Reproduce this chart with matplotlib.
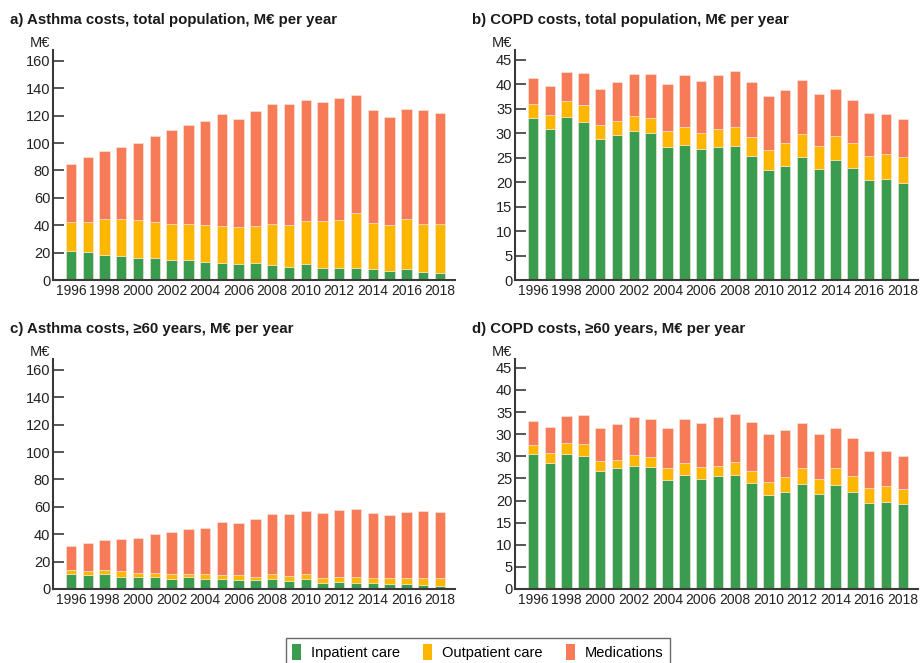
import matplotlib.pyplot as plt
import matplotlib.patches as mpatches
import numpy as np

# data (M€ per year), one value per year 1996..2018
years = list(range(1996, 2019))

# a) asthma, total population
asthma_tot_inpatient = [21.4, 20.4, 18.2, 17.8, 16.3, 16.3, 14.3, 14.8, 13.4, 12.2, 11.7, 12.6,
                        11.2, 9.7, 11.4, 9.0, 8.8, 8.5, 7.8, 6.3, 7.8, 6.1, 5.3]
asthma_tot_outpatient = [20.7, 22.2, 26.3, 26.5, 27.2, 26.3, 26.8, 26.3, 27.0, 27.4, 27.0, 27.0,
                         29.9, 30.4, 31.6, 34.0, 35.0, 40.1, 33.8, 33.8, 36.7, 34.5, 35.3]
asthma_tot_medications = [42.5, 47.1, 49.6, 53.2, 56.7, 62.9, 68.3, 72.0, 76.1, 81.7, 79.2, 83.9,
                          87.8, 88.8, 88.8, 87.1, 89.2, 86.8, 82.4, 79.3, 80.5, 83.4, 81.7]

# b) COPD, total population
copd_tot_inpatient = [33.1, 30.8, 33.3, 32.3, 28.8, 29.6, 30.5, 30.0, 27.2, 27.6, 26.7, 27.2,
                      27.3, 25.4, 22.5, 23.3, 25.2, 22.6, 24.6, 22.8, 20.4, 20.6, 19.9]
copd_tot_outpatient = [2.8, 3.0, 3.2, 3.4, 2.9, 2.9, 3.0, 3.1, 3.3, 3.6, 3.4, 3.6,
                       4.0, 3.9, 4.0, 4.6, 4.7, 4.7, 4.9, 5.2, 5.0, 5.2, 5.3]
copd_tot_medications = [5.3, 5.8, 6.0, 6.6, 7.3, 8.0, 8.6, 9.0, 9.5, 10.6, 10.6, 11.1,
                        11.4, 11.1, 11.2, 10.9, 10.9, 10.7, 9.5, 8.8, 8.7, 8.2, 7.6]

# c) asthma, >=60 years
asthma_60_inpatient = [10.8, 10.1, 10.6, 9.1, 9.1, 9.1, 7.5, 8.7, 7.5, 7.0, 6.3, 6.3,
                       7.0, 5.5, 7.0, 4.3, 4.8, 4.3, 4.1, 3.4, 3.6, 3.1, 2.4]
asthma_60_outpatient = [2.9, 2.9, 3.1, 3.7, 2.7, 2.4, 3.1, 2.6, 3.1, 3.1, 3.6, 2.8,
                        3.6, 3.9, 3.6, 4.1, 4.3, 4.8, 4.3, 4.5, 4.8, 4.6, 5.3]
asthma_60_medications = [17.8, 20.4, 21.9, 23.5, 25.7, 28.9, 31.0, 32.5, 34.2, 38.7, 38.2, 41.7,
                         44.0, 45.7, 46.7, 47.2, 48.6, 49.1, 47.2, 46.5, 47.9, 49.6, 48.6]

# d) COPD, >=60 years (in axis units: the original axis has 11 ticks, labels repeat "30")
copd_60_inpatient = [30.6, 28.5, 30.6, 30.0, 26.7, 27.3, 27.9, 27.6, 24.6, 25.7, 24.8, 25.6,
                     25.8, 23.9, 21.2, 21.9, 23.8, 21.5, 23.6, 22.0, 19.4, 19.6, 19.2]
copd_60_outpatient = [2.0, 2.3, 2.4, 2.7, 2.3, 1.8, 2.4, 2.3, 2.7, 2.8, 2.7, 2.3,
                      2.9, 2.8, 3.0, 3.4, 3.6, 3.4, 3.7, 3.5, 3.5, 3.6, 3.5]
copd_60_medications = [5.4, 5.8, 6.1, 6.6, 7.3, 8.1, 8.5, 8.6, 9.0, 9.9, 10.1, 11.1,
                       10.9, 11.0, 10.9, 10.6, 10.2, 10.2, 9.0, 8.6, 8.2, 8.0, 7.3]

asthma_ticks = [0, 20, 40, 60, 80, 100, 120, 140, 160]
copd_ticks = [0, 5, 10, 15, 20, 25, 30, 35, 40, 45]
copd_60_ticks = [0, 5, 10, 15, 20, 25, 30, 35, 40, 45, 50]
copd_60_ticklabels = ["0", "5", "10", "15", "20", "25", "30", "30", "35", "40", "45"]
x_labels = [str(y) for y in years[::2]]

categories = ["Inpatient care", "Outpatient care", "Medications"]
colors = {"green": "#3A9C4F", "yellow": "#FDB700", "salmon": "#F77B57"}
colorscheme = [colors["green"], colors["yellow"], colors["salmon"]]

plt.rcParams['font.family'] = ['Liberation Sans', 'DejaVu Sans']
axis_color = "#3a3a3a"

fig = plt.figure(figsize=(9.21, 6.63), dpi=100)
W, H = 921, 663


def px_axes(left, right, top, bottom):
    return fig.add_axes([left / W, 1 - bottom / H, (right - left) / W, (bottom - top) / H])


panels = [
    ("a) Asthma costs, total population, M€ per year",
     [asthma_tot_inpatient, asthma_tot_outpatient, asthma_tot_medications],
     asthma_ticks, None, 168, (53, 455, 50, 280)),
    ("b) COPD costs, total population, M€ per year",
     [copd_tot_inpatient, copd_tot_outpatient, copd_tot_medications],
     copd_ticks, None, 47, (515, 918, 50, 280)),
    ("c) Asthma costs, \u226560 years, M€ per year",
     [asthma_60_inpatient, asthma_60_outpatient, asthma_60_medications],
     asthma_ticks, None, 168, (53, 455, 359, 589)),
    ("d) COPD costs, \u226560 years, M€ per year",
     [copd_60_inpatient, copd_60_outpatient, copd_60_medications],
     copd_60_ticks, copd_60_ticklabels, 52, (515, 918, 359, 589)),
]

for title, series, ticks, ticklabels, ytop, (l, r, t, b) in panels:
    ax = px_axes(l, r, t, b)
    bottom = np.zeros(len(years))
    for vals, col in zip(series, colorscheme):
        ax.bar(years, vals, width=0.62, bottom=bottom, color=col,
               edgecolor="#fbe9e2", linewidth=0.4)
        bottom += np.array(vals)
    ax.set_xlim(1994.93, 2018.9)
    ax.set_ylim(0, ytop)
    ax.set_yticks(ticks)
    if ticklabels is not None:
        ax.set_yticklabels(ticklabels)
    ax.set_xticks(years[::2])
    ax.set_xticklabels(x_labels)
    for side in ["top", "right"]:
        ax.spines[side].set_visible(False)
    for side in ["left", "bottom"]:
        ax.spines[side].set_color(axis_color)
        ax.spines[side].set_linewidth(1.5)
    ax.tick_params(axis="y", direction="in", length=8, width=1.2, color=axis_color,
                   labelsize=10.5, pad=2, labelcolor="#222222")
    ax.tick_params(axis="x", length=0, labelsize=10, pad=3, labelcolor="#222222")
    # title and unit label, placed in figure pixels
    fig.text((l - 43) / W, 1 - (t - 30) / H, title, fontsize=10.8, fontweight="bold",
             ha="left", va="center", color="#1a1a1a")
    fig.text((l - 13) / W, 1 - (t - 7) / H, "M€", fontsize=10.5, ha="center",
             va="center", color="#222222")

handles = [mpatches.Patch(facecolor=c, edgecolor="none") for c in colorscheme]
leg = fig.legend(handles, categories, loc="center", bbox_to_anchor=(478 / W, 1 - 652 / H),
                 ncol=3, frameon=True, fancybox=False, fontsize=10.5, handlelength=0.6,
                 handleheight=1.4, handletextpad=0.7, columnspacing=1.6,
                 borderpad=0.4, edgecolor="#444444")
leg.get_frame().set_linewidth(1.0)

fig.savefig("out.png", dpi=100)
